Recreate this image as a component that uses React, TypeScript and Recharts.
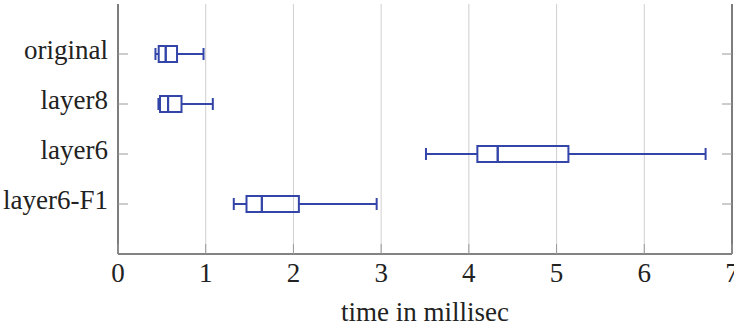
import {
  ComposedChart,
  Bar,
  XAxis,
  YAxis,
  CartesianGrid,
} from "recharts";

// box plot stats per variant (time in millisec)
const categories = ["original", "layer8", "layer6", "layer6-F1"];
const lowerWhisker = [0.427, 0.461, 3.511, 1.32];
const lowerQuartile = [0.464, 0.479, 4.097, 1.465];
const medians = [0.544, 0.571, 4.329, 1.64];
const upperQuartile = [0.673, 0.724, 5.135, 2.062];
const upperWhisker = [0.975, 1.081, 6.699, 2.949];
const xTicks = [0, 1, 2, 3, 4, 5, 6, 7];

const BOX_BLUE = "#3345a8";
const FRAME = "#5a5a5a";
const TICK = "#9a9a9a";
const FONT = "Liberation Serif";
const FONT_SIZE = 27;
const TICK_LEN = 10;

// stacked segments: invisible base, then whisker/box pieces
const chartData = categories.map((name, i) => ({
  name,
  base: lowerWhisker[i],
  lowW: lowerQuartile[i] - lowerWhisker[i],
  boxLow: medians[i] - lowerQuartile[i],
  boxHigh: upperQuartile[i] - medians[i],
  highW: upperWhisker[i] - upperQuartile[i],
}));

type SegProps = { x?: number; y?: number; width?: number; height?: number };

const CAP = 6;

const LowWhisker = ({ x = 0, y = 0, width = 0, height = 0 }: SegProps) => {
  const cy = y + height / 2;
  return (
    <g stroke={BOX_BLUE} strokeWidth={2}>
      <line x1={x} x2={x + width} y1={cy} y2={cy} />
      <line x1={x} x2={x} y1={cy - CAP} y2={cy + CAP} />
    </g>
  );
};

const HighWhisker = ({ x = 0, y = 0, width = 0, height = 0 }: SegProps) => {
  const cy = y + height / 2;
  return (
    <g stroke={BOX_BLUE} strokeWidth={2}>
      <line x1={x} x2={x + width} y1={cy} y2={cy} />
      <line x1={x + width} x2={x + width} y1={cy - CAP} y2={cy + CAP} />
    </g>
  );
};

const BoxPart = ({ x = 0, y = 0, width = 0, height = 0 }: SegProps) => (
  <rect
    x={x}
    y={y}
    width={width}
    height={height}
    fill="none"
    stroke={BOX_BLUE}
    strokeWidth={2}
  />
);

const Hidden = () => <g />;

const BottomTick = (props: any) => {
  const { x, y, payload } = props;
  return (
    <g>
      <line x1={x} x2={x} y1={y} y2={y - TICK_LEN} stroke={TICK} />
      <text
        x={x}
        y={y + 28}
        textAnchor="middle"
        fill="#222"
        fontFamily={FONT}
        fontSize={FONT_SIZE}
      >
        {payload.value}
      </text>
    </g>
  );
};

const TopTick = (props: any) => {
  const { x, y } = props;
  return <line x1={x} x2={x} y1={y} y2={y + TICK_LEN} stroke={TICK} />;
};

const LeftTick = (props: any) => {
  const { x, y, payload } = props;
  return (
    <g>
      <line x1={x} x2={x + TICK_LEN} y1={y} y2={y} stroke={TICK} />
      <text
        x={x - 10}
        y={y + 5}
        textAnchor="end"
        fill="#222"
        fontFamily={FONT}
        fontSize={FONT_SIZE}
      >
        {payload.value}
      </text>
    </g>
  );
};

const RightTick = (props: any) => {
  const { x, y } = props;
  return <line x1={x} x2={x - TICK_LEN} y1={y} y2={y} stroke={TICK} />;
};

const AxisTitle = (props: any) => {
  const { viewBox } = props;
  const cx = viewBox.x + viewBox.width / 2;
  return (
    <text
      x={cx}
      y={viewBox.y + viewBox.height - 3}
      textAnchor="middle"
      fill="#222"
      fontFamily={FONT}
      fontSize={FONT_SIZE}
    >
      time in millisec
    </text>
  );
};

export default function App() {
  return (
    <div style={{ position: "absolute", left: 0, top: 0, background: "#fff" }}>
      <ComposedChart
        width={734}
        height={324}
        data={chartData}
        layout="vertical"
        margin={{ top: 4, right: 0, bottom: 0, left: 0 }}
        barSize={16}
      >
        <CartesianGrid
          horizontal={false}
          stroke="#cfcfcf"
          strokeWidth={1}
        />
        <XAxis
          type="number"
          domain={[0, 7]}
          ticks={xTicks}
          interval={0}
          height={70}
          tickSize={0}
          tickMargin={0}
          tickLine={false}
          axisLine={{ stroke: FRAME, strokeWidth: 1.5 }}
          tick={BottomTick}
          label={<AxisTitle />}
        />
        <XAxis
          xAxisId="top"
          orientation="top"
          type="number"
          domain={[0, 7]}
          ticks={xTicks}
          interval={0}
          height={0}
          tickSize={0}
          tickMargin={0}
          tickLine={false}
          axisLine={{ stroke: FRAME, strokeWidth: 1.5 }}
          tick={TopTick}
        />
        <YAxis
          type="category"
          dataKey="name"
          width={118}
          padding={{ top: 25, bottom: 25 }}
          interval={0}
          tickSize={0}
          tickMargin={0}
          tickLine={false}
          axisLine={{ stroke: FRAME, strokeWidth: 1.5 }}
          tick={LeftTick}
        />
        <YAxis
          yAxisId="right"
          orientation="right"
          type="category"
          dataKey="name"
          width={2}
          padding={{ top: 25, bottom: 25 }}
          interval={0}
          tickSize={0}
          tickMargin={0}
          tickLine={false}
          axisLine={{ stroke: FRAME, strokeWidth: 1.5 }}
          tick={RightTick}
        />
        <Bar dataKey="base" stackId="box" shape={Hidden} isAnimationActive={false} />
        <Bar dataKey="lowW" stackId="box" shape={LowWhisker} isAnimationActive={false} />
        <Bar dataKey="boxLow" stackId="box" shape={BoxPart} isAnimationActive={false} />
        <Bar dataKey="boxHigh" stackId="box" shape={BoxPart} isAnimationActive={false} />
        <Bar dataKey="highW" stackId="box" shape={HighWhisker} isAnimationActive={false} />
      </ComposedChart>
    </div>
  );
}
